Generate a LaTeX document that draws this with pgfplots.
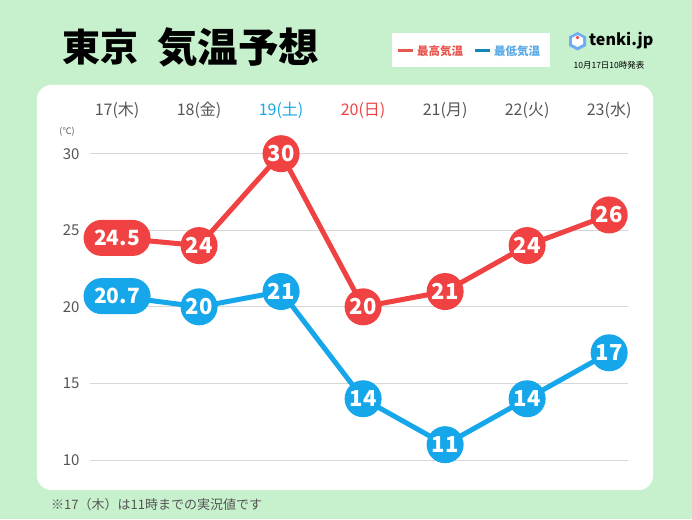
\documentclass[border=0pt]{standalone}
\usepackage{fontspec}
\setmainfont{Noto Sans CJK JP}
\usepackage{pgfplots}
\pgfplotsset{compat=1.18}
\usetikzlibrary{shapes.misc}
\definecolor{bggreen}{RGB}{199,240,205}
\definecolor{hired}{RGB}{240,66,66}
\definecolor{loblue}{RGB}{22,166,234}
\definecolor{daygray}{RGB}{85,85,85}
\definecolor{gridgray}{RGB}{215,215,215}
\definecolor{legred}{RGB}{232,86,80}
\definecolor{legblue}{RGB}{90,170,230}
\begin{document}
\begin{tikzpicture}
\begin{scope}[x=1pt,y=1pt,shift={(-90pt,-59pt)}]
\fill[bggreen] (0,0) rectangle (692,519);
\useasboundingbox (0,0) rectangle (692,519);
\fill[white, rounded corners=14pt] (37,29) rectangle (653,434);
% title
\node[anchor=west, inner sep=0, font=\bfseries\fontsize{38}{38}\selectfont] at (62,472) {東京};
\node[anchor=west, inner sep=0, font=\bfseries\fontsize{40.5}{40.5}\selectfont] at (157,472) {気温予想};
% legend box
\fill[white] (392,452) rectangle (550,486);
\draw[legred, line width=3pt] (398,468) -- (413,468);
\node[anchor=west, inner sep=0, text=legred, font=\bfseries\fontsize{11.5}{11.5}\selectfont] at (417,468) {最高気温};
\draw[loblue!80!black, line width=3pt] (475,468) -- (490,468);
\node[anchor=west, inner sep=0, text=legblue, font=\bfseries\fontsize{11.5}{11.5}\selectfont] at (494,468) {最低気温};
% tenki.jp logo
\fill[loblue!70!blue!60!white] (577.5,487) -- (586,482.5) -- (586,473) -- (577.5,468.5) -- (569,473) -- (569,482.5) -- cycle;
\fill[white] (577.5,484) -- (583,481) -- (583,475) -- (577.5,472) -- (572,475) -- (572,481) -- cycle;
\fill[hired] (577.5,481.5) circle (1.8pt);
\node[anchor=west, inner sep=0, font=\bfseries\fontsize{16}{16}\selectfont] at (589,478) {tenki.jp};
\node[anchor=center, inner sep=0, font=\fontsize{8.5}{8.5}\selectfont] at (609,454) {10月17日10時発表};
% footnote
\node[anchor=west, inner sep=0, text=daygray, font=\fontsize{13}{13}\selectfont] at (51,14) {※17（木）は11時までの実況値です};
% unit
\node[anchor=center, inner sep=0, text=daygray, font=\fontsize{9}{9}\selectfont] at (67,387) {(℃)};
\end{scope}
\begin{axis}[
  scale only axis, width=538pt, height=340pt,
  xmin=-0.33, xmax=6.23, ymin=10, ymax=32.2,
  clip=false,
  axis line style={draw=none},
  major tick length=0pt,
  ytick={10,15,20,25,30},
  ymajorgrids, grid style={gridgray, line width=1pt},
  xtick={0,1,2,3,4,5,6},
  xticklabel pos=right,
  xticklabels={17(木),18(金),{\color{loblue}19(土)},{\color{hired}20(日)},21(月),22(火),23(水)},
  xticklabel style={text=daygray, font=\fontsize{16}{16}\selectfont, yshift=-2pt},
  yticklabel style={text=daygray, font=\fontsize{15}{15}\selectfont, xshift=-7pt},
  /pgf/number format/assume math mode=true,
]
\addplot[hired, line width=5pt, mark=none] coordinates {(0,24.5) (1,24) (2,30) (3,20) (4,21) (5,24) (6,26)};
\addplot[loblue, line width=5pt, mark=none] coordinates {(0,20.7) (1,20) (2,21) (3,14) (4,11) (5,14) (6,17)};
\addplot[draw=none, mark=none, point meta=explicit symbolic, nodes near coords,
  every node near coord/.style={anchor=center, circle, fill=hired, text=white, inner sep=0pt, minimum size=37pt, font=\bfseries\fontsize{22}{22}\selectfont}]
  coordinates {(1,24)[24] (2,30)[30] (3,20)[20] (4,21)[21] (5,24)[24] (6,26)[26]};
\addplot[draw=none, mark=none, point meta=explicit symbolic, nodes near coords,
  every node near coord/.style={anchor=center, circle, fill=loblue, text=white, inner sep=0pt, minimum size=37pt, font=\bfseries\fontsize{22}{22}\selectfont}]
  coordinates {(1,20)[20] (2,21)[21] (3,14)[14] (4,11)[11] (5,14)[14] (6,17)[17]};
\addplot[draw=none, mark=none, point meta=explicit symbolic, nodes near coords,
  every node near coord/.style={anchor=center, rounded rectangle, fill=hired, text=white, inner sep=0pt, minimum width=67pt, minimum height=36pt, font=\bfseries\fontsize{21}{21}\selectfont}]
  coordinates {(0,24.5)[24.5]};
\addplot[draw=none, mark=none, point meta=explicit symbolic, nodes near coords,
  every node near coord/.style={anchor=center, rounded rectangle, fill=loblue, text=white, inner sep=0pt, minimum width=67pt, minimum height=36pt, font=\bfseries\fontsize{21}{21}\selectfont}]
  coordinates {(0,20.7)[20.7]};
\end{axis}
\end{tikzpicture}
\end{document}
